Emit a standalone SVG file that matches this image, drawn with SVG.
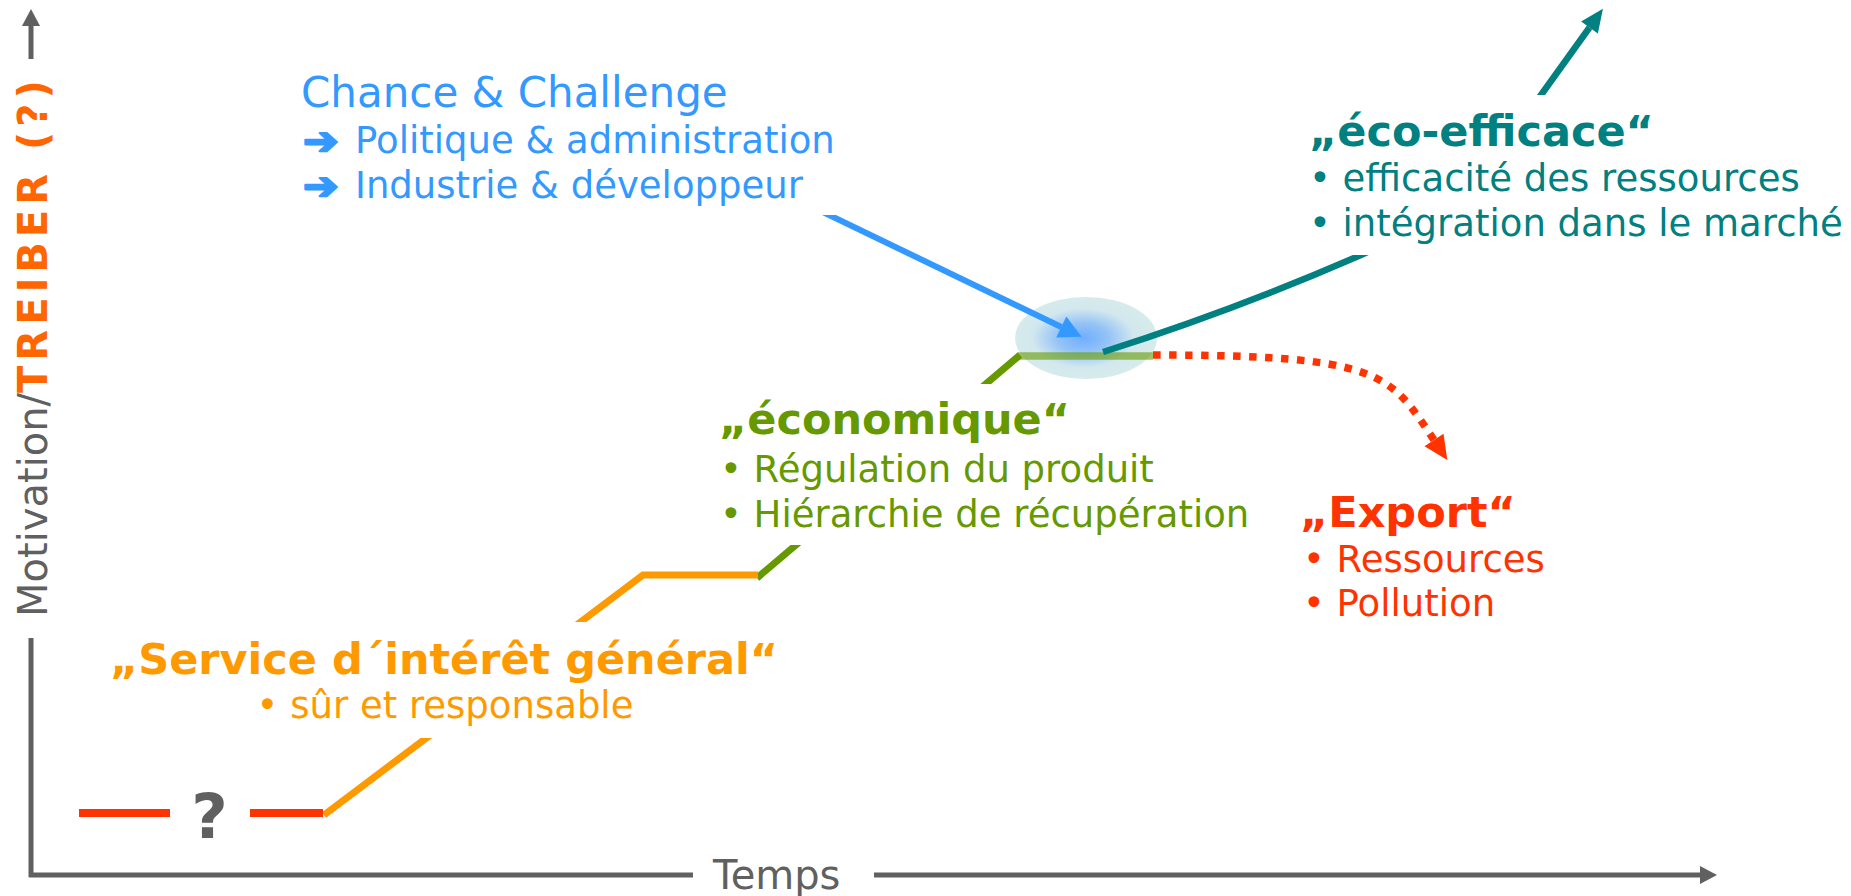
<svg xmlns="http://www.w3.org/2000/svg" width="1851" height="896" viewBox="0 0 1851 896">
<style>
text{font-family:"DejaVu Sans","Liberation Sans",sans-serif}
.t{font-size:43px;font-weight:bold}
.b{font-size:37px}
.arr{font-size:38px;font-weight:bold;stroke:#3399FF;stroke-width:2.2;stroke-linejoin:round}
.blue{fill:#3399FF}
.teal{fill:#008080}
.green{fill:#669900}
.red{fill:#FF3300}
.orange{fill:#FF9900}
.gray{fill:#606060}
.box{fill:#FFFFFF}
.ax{stroke:#606060;stroke-width:5;fill:none}
</style>
<defs>
<radialGradient id="glow" cx="0.48" cy="0.5" r="0.5">
<stop offset="0" stop-color="#6FAEFF"/>
<stop offset="0.35" stop-color="#93C2F6"/>
<stop offset="0.72" stop-color="#D2E8EE"/>
<stop offset="1" stop-color="#D6EBEB"/>
</radialGradient>
<marker id="mBlue" markerUnits="userSpaceOnUse" orient="auto" viewBox="0 -12 24 24" refX="0" refY="0" markerWidth="24" markerHeight="24" overflow="visible">
<path d="M0,-11.6 L22.6,0 L0,11.6 Z" fill="#3399FF"/>
</marker>
<marker id="mTeal" markerUnits="userSpaceOnUse" orient="auto" viewBox="0 -11 24 22" refX="0" refY="0" markerWidth="24" markerHeight="22" overflow="visible">
<path d="M0,-10.3 L23,0 L0,10.3 Z" fill="#008080"/>
</marker>
<marker id="mRed" markerUnits="userSpaceOnUse" orient="auto" viewBox="0 -12 25 24" refX="0" refY="0" markerWidth="25" markerHeight="24" overflow="visible">
<path d="M0,-11.4 L24,0 L0,11.4 Z" fill="#FF3300"/>
</marker>
<marker id="mGray" markerUnits="userSpaceOnUse" orient="auto" viewBox="0 -10 18 20" refX="0" refY="0" markerWidth="18" markerHeight="20" overflow="visible">
<path d="M0,-9 L17,0 L0,9 Z" fill="#606060"/>
</marker>
</defs>
<rect width="1851" height="896" fill="#FFFFFF"/>

<g id="axes">
<line class="ax" x1="31" y1="877" x2="31" y2="638"/>
<line class="ax" x1="31" y1="59" x2="31" y2="26" marker-end="url(#mGray)"/>
<line class="ax" x1="29" y1="875" x2="693" y2="875"/>
<line class="ax" x1="874" y1="875" x2="1700" y2="875" marker-end="url(#mGray)"/>
<text x="713" y="889" font-size="40" class="gray">Temps</text>
<text transform="translate(47,617) rotate(-90)" font-size="40" class="gray">Motivation/<tspan font-weight="bold" fill="#FF6600" letter-spacing="5">TREIBER (?)</tspan></text>
</g>

<g id="connectors">
<ellipse cx="1086" cy="338" rx="71" ry="41" fill="url(#glow)"/>
<line x1="1018" y1="356" x2="1153" y2="356" stroke="#669900" stroke-width="7.5" stroke-opacity="0.6"/>
<line x1="757" y1="578" x2="1020" y2="355" stroke="#669900" stroke-width="7"/>
<polyline points="324,815 643,575 758,575" fill="none" stroke="#FF9900" stroke-width="7"/>
<line x1="79" y1="813" x2="170" y2="813" stroke="#FF3300" stroke-width="8"/>
<line x1="250" y1="813" x2="323" y2="813" stroke="#FF3300" stroke-width="8"/>
<line x1="800" y1="201" x2="1061.3" y2="327" stroke="#3399FF" stroke-width="6" marker-end="url(#mBlue)"/>
<path d="M1103,352 Q1235,310 1361,255 Q1456,213 1541,95 L1589.5,27.5" fill="none" stroke="#008080" stroke-width="6.5" marker-end="url(#mTeal)"/>
<path d="M1153,355 C1383,355 1390,374 1434,440" fill="none" stroke="#FF3300" stroke-width="7.5" stroke-dasharray="7.5 8.5" marker-end="url(#mRed)"/>
</g>

<g id="node-chance">
<rect class="box" x="290" y="60" width="560" height="155"/>
<text x="301" y="107" font-size="42" class="blue">Chance &amp; Challenge</text>
<text transform="translate(303,154) scale(1.12,1)" class="arr blue">➔</text>
<text x="355" y="153" class="b blue">Politique &amp; administration</text>
<text transform="translate(303,199) scale(1.12,1)" class="arr blue">➔</text>
<text x="355" y="198" class="b blue">Industrie &amp; développeur</text>
</g>

<g id="node-eco">
<rect class="box" x="1300" y="95" width="551" height="160"/>
<text x="1309" y="146" class="t teal">„éco-efficace“</text>
<text x="1309" y="191" class="b teal">• efficacité des ressources</text>
<text x="1309" y="236" class="b teal">• intégration dans le marché</text>
</g>

<g id="node-economique">
<rect class="box" x="705" y="384" width="555" height="161"/>
<text x="719" y="434" class="t green">„économique“</text>
<text x="720" y="482" class="b green">• Régulation du produit</text>
<text x="720" y="527" class="b green">• Hiérarchie de récupération</text>
</g>

<g id="node-export">
<text x="1300" y="527" class="t red">„Export“</text>
<text x="1303" y="572" class="b red">• Ressources</text>
<text x="1303" y="616" class="b red">• Pollution</text>
</g>

<g id="node-service">
<rect class="box" x="110" y="622" width="665" height="116"/>
<text x="444" y="674" text-anchor="middle" class="t orange">„Service d´intérêt général“</text>
<text x="445" y="718" text-anchor="middle" class="b orange">• sûr et responsable</text>
</g>

<g id="node-question">
<text x="209.5" y="838" text-anchor="middle" font-size="63" font-weight="bold" class="gray">?</text>
</g>
</svg>
